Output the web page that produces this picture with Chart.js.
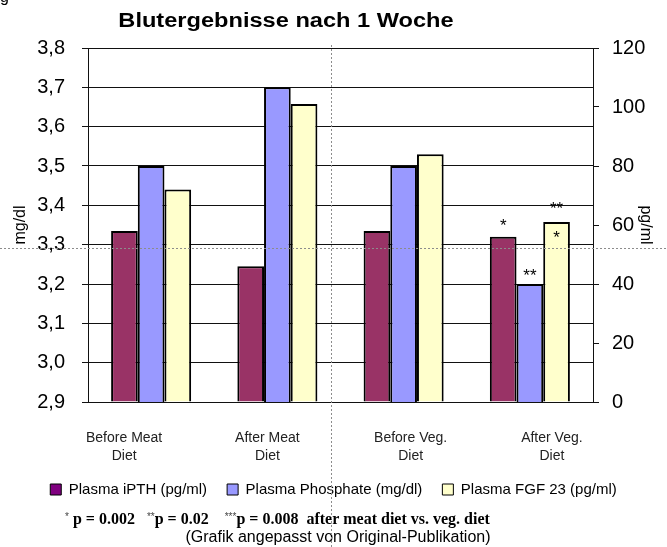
<!DOCTYPE html>
<html>
<head>
<meta charset="utf-8">
<script src="https://cdn.jsdelivr.net/npm/chart.js@4.4.1/dist/chart.umd.min.js"></script>
<style>
  html, body { margin: 0; padding: 0; background: #fff; }
  #wrap { width: 667px; height: 547px; }
</style>
</head>
<body>
<div id="wrap"><canvas id="myChart" width="667" height="547"></canvas></div>
<script>
// chart data
var chartTitle = 'Blutergebnisse nach 1 Woche';
var categories = [['Before Meat', 'Diet'], ['After Meat', 'Diet'], ['Before Veg.', 'Diet'], ['After Veg.', 'Diet']];
var seriesNames = ['Plasma iPTH (pg/ml)', 'Plasma Phosphate (mg/dl)', 'Plasma FGF 23 (pg/ml)'];
var iPTH = [58, 46, 58, 56];          // pg/ml -> right axis
var phosphate = [3.5, 3.7, 3.5, 3.2]; // mg/dl -> left axis
var fgf23 = [72, 101, 84, 61];        // pg/ml -> right axis
var leftRange = [2.9, 3.8, 0.1];
var rightRange = [0, 120, 20];
var leftTitle = 'mg/dl';
var rightTitle = 'pg/ml';
// significance stars on the last group (series index, text)
var sigMarks = [[0, '*'], [1, '**'], [2, '**'], [2, '*']];
var footnote = [['*', true], [' p = 0.002   ', false], ['**', true], ['p = 0.02    ', false],
                ['***', true], ['p = 0.008  after meat diet vs. veg. diet', false]];
var sourceNote = '(Grafik angepasst von Original-Publikation)';

// styles
var barColors = ['#993366', '#9999ff', '#ffffcc'];
var legendColors = ['#800080', '#9999ff', '#ffffcc'];
var labelNudge = [-27, -10, 7, 22];
var markLift = [16, 13, 18, -11];
var SANS = '"Liberation Sans", Arial, sans-serif';
var SERIF = '"Liberation Serif", "Times New Roman", serif';

Chart.defaults.font.family = SANS;
Chart.defaults.color = '#000';

var extras = {
  id: 'extras',
  afterDraw: function (chart) {
    var ctx = chart.ctx, area = chart.chartArea, xs = chart.scales.x;
    ctx.save();
    ctx.fillStyle = '#000';

    // cut-off glyph at the top left corner
    ctx.font = '16px ' + SANS;
    ctx.textAlign = 'left';
    ctx.textBaseline = 'alphabetic';
    ctx.fillText('g', 0, 2);

    // title (slightly wide like the original)
    ctx.font = 'bold 20px ' + SANS;
    ctx.textAlign = 'center';
    ctx.save();
    ctx.translate(286, 27);
    ctx.scale(1.18, 1);
    ctx.fillText(chartTitle, 0, 0);
    ctx.restore();

    // category labels
    ctx.font = '14px ' + SANS;
    ctx.fillStyle = '#222';
    ctx.textBaseline = 'middle';
    categories.forEach(function (lines, i) {
      var x = xs.getPixelForValue(i) + labelNudge[i];
      lines.forEach(function (t, j) {
        ctx.fillText(t, x, area.bottom + 36 + j * 18);
      });
    });

    // significance stars
    ctx.font = '17px ' + SANS;
    ctx.fillStyle = '#000';
    ctx.textBaseline = 'alphabetic';
    sigMarks.forEach(function (m, k) {
      var bar = chart.getDatasetMeta(m[0]).data[categories.length - 1];
      ctx.fillText(m[1], bar.x, bar.y - markLift[k] + 10);
    });

    // footnote
    var x = 65;
    ctx.textAlign = 'left';
    footnote.forEach(function (seg) {
      if (seg[1]) {
        ctx.font = '10px ' + SANS;
        ctx.fillStyle = '#444';
        ctx.fillText(seg[0], x, 520);
      } else {
        ctx.font = 'bold 16px ' + SERIF;
        ctx.fillStyle = '#000';
        ctx.fillText(seg[0], x, 524);
      }
      x += ctx.measureText(seg[0]).width;
    });
    ctx.font = '16px ' + SANS;
    ctx.textAlign = 'center';
    ctx.fillText(sourceNote, 338, 542);

    // dotted cross lines from the source image
    ctx.strokeStyle = '#8c8c8c';
    ctx.lineWidth = 1;
    ctx.setLineDash([2, 2]);
    ctx.beginPath();
    ctx.moveTo(0, 248.5);
    ctx.lineTo(chart.width, 248.5);
    ctx.moveTo(331.5, 45);
    ctx.lineTo(331.5, chart.height);
    ctx.stroke();
    ctx.restore();
  }
};

var ctx = document.getElementById('myChart').getContext('2d');
var chart = new Chart(ctx, {
  type: 'bar',
  data: {
    labels: categories,
    datasets: [{
      label: seriesNames[0],
      data: iPTH,
      yAxisID: 'y1',
      backgroundColor: barColors[0],
      borderColor: '#000',
      borderWidth: 2
    }, {
      label: seriesNames[1],
      data: phosphate,
      yAxisID: 'y',
      backgroundColor: barColors[1],
      borderColor: '#000',
      borderWidth: 2
    }, {
      label: seriesNames[2],
      data: fgf23,
      yAxisID: 'y1',
      backgroundColor: barColors[2],
      borderColor: '#000',
      borderWidth: 2
    }]
  },
  options: {
    responsive: false,
    animation: false,
    devicePixelRatio: 1,
    categoryPercentage: 0.634,
    barPercentage: 1,
    layout: { padding: { top: 48, bottom: 40, left: 0, right: 0 } },
    plugins: {
      title: { display: false },
      tooltip: { enabled: false },
      legend: {
        position: 'bottom',
        labels: {
          boxWidth: 11,
          boxHeight: 11,
          padding: 20,
          color: '#000',
          font: { size: 15 },
          generateLabels: function (chart) {
            var items = Chart.defaults.plugins.legend.labels.generateLabels(chart);
            items.forEach(function (it, i) {
              it.fillStyle = legendColors[i];
              it.strokeStyle = '#000';
              it.lineWidth = 1;
            });
            return items;
          }
        }
      }
    },
    scales: {
      x: {
        grid: { display: false },
        border: { display: false },
        ticks: { display: false },
        afterFit: function (scale) { scale.height = 60; }
      },
      y: {
        position: 'left',
        min: leftRange[0],
        max: leftRange[1],
        ticks: {
          stepSize: leftRange[2],
          padding: 17,
          color: '#000',
          font: { size: 20 },
          callback: function (v) { return Number(v).toFixed(1).replace('.', ','); }
        },
        grid: { color: '#111', lineWidth: 1, tickLength: 6 },
        border: { color: '#111' },
        title: { display: true, text: leftTitle, color: '#000', font: { size: 16 }, padding: { top: 11, bottom: 0 } },
        afterFit: function (scale) { scale.width = 88; }
      },
      y1: {
        position: 'right',
        min: rightRange[0],
        max: rightRange[1],
        ticks: {
          stepSize: rightRange[2],
          padding: 13,
          color: '#000',
          font: { size: 20 }
        },
        grid: { drawOnChartArea: false, color: '#111', tickLength: 6 },
        border: { color: '#111' },
        title: { display: true, text: rightTitle, color: '#000', font: { size: 16 }, padding: { top: 12, bottom: 0 } },
        afterFit: function (scale) { scale.width = 74; }
      }
    }
  },
  plugins: [extras]
});
</script>
</body>
</html>
